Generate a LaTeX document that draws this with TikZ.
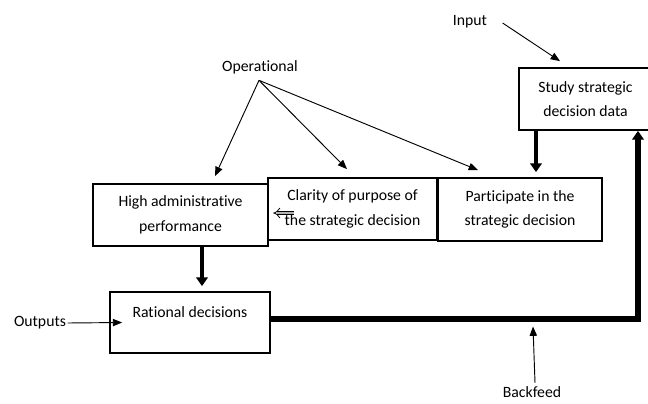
\documentclass[tikz,border=0pt]{standalone}
\usepackage{fontspec}
\setmainfont{Carlito}[Ligatures={NoCommon}]
\usetikzlibrary{arrows.meta,calc}

\begin{document}
\begin{tikzpicture}[x=0.75pt, y=-0.75pt,
  box/.style={draw, line width=1.3pt, align=center, inner sep=0pt,
    font=\fontsize{11.8}{18.5}\selectfont},
  word/.style={font=\fontsize{11.8}{13}\selectfont, inner sep=1pt},
  thinarrow/.style={line width=0.7pt, -{Triangle[length=7pt, width=5.5pt]}},
  heavyarrow/.style={line width=3.4pt, -{Triangle[length=6.5pt, width=8.5pt]}}]

\useasboundingbox (0,0) rectangle (648,403);

% Boxes
\node[box, minimum width=100pt, minimum height=46.5pt] (study) at (585.5,99) {Study strategic\\decision data};
\node[box, minimum width=131.25pt, minimum height=46.5pt] (high) at (180.5,215) {High administrative\\performance};
\node[box, minimum width=126.75pt, minimum height=46.5pt] (clarity) at (352.5,209) {Clarity of purpose of\\the strategic decision};
\node[box, minimum width=123pt, minimum height=47.25pt] (part) at (520,209.5) {Participate in the\\strategic decision};
\node[box, minimum width=120pt, minimum height=45.75pt] (rational) at (190,322.5) {};
\node[word] (rtext) at ($(rational.north)+(0,21)$) {Rational decisions};

% Free labels
\node[word] (oper) at (260,67) {Operational};
\node[word] (input) at (470,22) {Input};
\node[word] (outputs) at (40,323) {Outputs};
\node[word] (backfeed) at (532,392) {Backfeed};

% Ends of the connectors
\coordinate (tohigh) at ($(high.north)+(34.5,-7)$);
\coordinate (toclar) at ($(clarity.north)+(-5.5,-8)$);
\coordinate (topart) at ($(part.north)+(-42,-7)$);
\coordinate (tostudy) at ($(study.north)+(-25.5,-6)$);
\coordinate (pdown) at ($(part.north)+(16,-5)$);
\coordinate (rdown) at ($(rational.north)+(12,-5)$);
\coordinate (loop) at (638,319);

% Thin arrows
\draw[thinarrow] ($(oper.south)+(-1,5)$) -- (tohigh);
\draw[thinarrow] ($(oper.south)+(-1,5)$) -- (toclar);
\draw[thinarrow] ($(oper.south)+(-1,5)$) -- (topart);
\draw[thinarrow] (input.east) ++(14,1) -- (tostudy);
\draw[thinarrow] (outputs.east) -- ($(rational.west)+(13,0)$);
\draw[thinarrow] ($(backfeed.north)+(3,-2)$) -- ($(rational.east -| backfeed)+(1,4)$);

% Thick arrows
\draw[heavyarrow] (study.south -| pdown) -- (pdown);
\draw[heavyarrow] (high.south -| rdown) -- (rdown);
\draw[heavyarrow, line width=3.8pt] (rational.east |- loop) -- (loop) -- (study.south -| loop);

% Small hollow arrow
\draw[line width=0.6pt, double=gray!60, double distance=2.2pt, -{Implies}] ($(clarity.west)+(27,4)$) -- ($(clarity.west)+(6,4)$);

\end{tikzpicture}
\end{document}
